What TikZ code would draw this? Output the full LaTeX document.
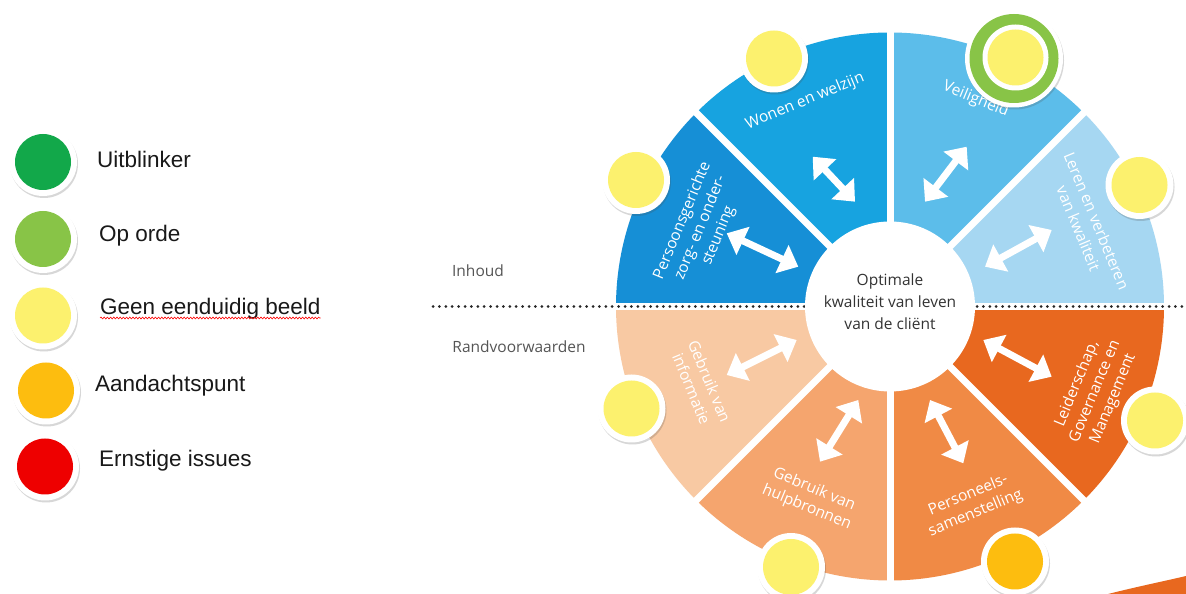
\documentclass[tikz,border=0pt]{standalone}
\usepackage{fontspec}
\usetikzlibrary{calc,arrows.meta,shadows,decorations.pathmorphing}
\newfontfamily\legendfont{Liberation Sans}
\newfontfamily\wheelfont{Open Sans}

% segment colours
\definecolor{lerenc}{HTML}{A6D7F2}
\definecolor{veilc}{HTML}{5CBDEA}
\definecolor{wonenc}{HTML}{17A3E0}
\definecolor{persc}{HTML}{168FD6}
\definecolor{infoc}{HTML}{F8C9A3}
\definecolor{hulpc}{HTML}{F5A56E}
\definecolor{persnc}{HTML}{F08A45}
\definecolor{leidc}{HTML}{E8681F}
% status colours
\definecolor{topgreen}{HTML}{12A84A}
\definecolor{okgreen}{HTML}{88C447}
\definecolor{yel}{HTML}{FCF16E}
\definecolor{amber}{HTML}{FDBD0F}
\definecolor{alarm}{HTML}{EE0000}
\definecolor{txtgrey}{HTML}{555555}
\definecolor{coregrey}{HTML}{333333}

\tikzset{
  rim/.style={circle, fill=white, inner sep=0pt, minimum size=68pt,
    drop shadow={shadow xshift=1pt, shadow yshift=-2pt, opacity=0.22, fill=black!70}},
  dot/.style={circle, fill=#1, inner sep=0pt, minimum size=56pt},
  gapline/.style={white, line width=7pt},
  dotline/.style={draw=black!85, line width=3pt, line cap=round, dash pattern=on 0pt off 6.4pt},
  wheelarrow/.style={draw=white, line width=7pt,
    arrows={Triangle[width=30pt,length=18pt,fill=white]-Triangle[width=30pt,length=18pt,fill=white]}},
  segtext/.style={text=white, align=center, inner sep=0pt,
    font=\wheelfont\fontsize{15.5}{19.5}\selectfont},
  sidetext/.style={text=txtgrey, inner sep=0pt, font=\wheelfont\fontsize{15.5}{18}\selectfont},
  legtext/.style={anchor=base west, inner sep=0pt, text=black!90,
    font=\legendfont\fontsize{22.5}{26}\selectfont},
  spell/.style={red, line width=0.6pt, decorate,
    decoration={snake, amplitude=0.9pt, segment length=3.2pt}},
}

\begin{document}
\begin{tikzpicture}[x=1pt,y=1pt]
\useasboundingbox (0,0) rectangle (1186,594);
\fill[white] (0,0) rectangle (1186,594);

% ---------- legend ----------
\foreach \n/\x/\y/\c in {l1/43/432/topgreen, l2/43/355/okgreen, l3/43/278.5/yel,
                         l4/46/203.5/amber, l5/45/127.5/alarm}{
  \node[rim] (\n) at (\x,\y) {};
  \node[dot=\c] (\n dot) at (\n) {};
}
\node[legtext] (t1) at (97,426) {Uitblinker};
\node[legtext] (t2) at (99,352) {Op orde};
\node[legtext] (t3) at (100,279) {Geen eenduidig beeld};
\node[legtext] (t4) at (95,202) {Aandachtspunt};
\node[legtext] (t5) at (99,127) {Ernstige issues};
\draw[spell] ([yshift=-3pt]t3.base west) -- ([yshift=-3pt]t3.base east);

% ---------- wheel ----------
\coordinate (C) at (890,287.5);
\foreach \a/\col in {0/lerenc, 45/veilc, 90/wonenc, 135/persc,
                     180/infoc, 225/hulpc, 270/persnc, 315/leidc}
  \fill[\col] (C) -- ++(\a:274) arc[start angle=\a, end angle=\a+45, radius=274] -- cycle;

% white gaps between the segments
\foreach \a in {45,90,135,225,270,315}
  \draw[gapline] (C) -- ++(\a:282);
\draw[gapline] ([xshift=-282pt]C) -- ([xshift=282pt]C);

% dotted divider between content and preconditions
\coordinate (dl) at (433,287.5);
\coordinate (dr) at (1186,287.5);
\draw[dotline] (dl) -- (dr);
\node[sidetext] (inhoud) at (478,323) {Inhoud};
\node[sidetext] (rand) at (519,247) {Randvoorwaarden};

% centre
\node[circle, fill=white, inner sep=0pt, minimum size=170pt] (core) at (C) {};
\node[align=center, inner sep=0pt, text=coregrey,
      font=\wheelfont\fontsize{15.5}{22}\selectfont] (coretxt)
      at ([yshift=5pt]core.center) {Optimale\\kwaliteit van leven\\van de cliënt};

% segment labels
\node[segtext, rotate=22.5]  (wonen) at ($(C)+(112.5:222)$) {Wonen en welzijn};
\node[segtext, rotate=-22.5] (veil)  at ($(C)+(67.5:224)$)  {Veiligheid};
\node[segtext, rotate=67.5]  (pers)  at ($(C)+(157.5:205)$) {Persoonsgerichte\\zorg- en onder-\\steuning};
\node[segtext, rotate=-67.5] (leren) at ($(C)+(22.5:214)$)  {Leren en verbeteren\\van kwaliteit};
\node[segtext, rotate=-67.5] (info)  at ($(C)+(202.5:205)$) {Gebruik van\\informatie};
\node[segtext, rotate=-22.5] (hulp)  at ($(C)+(247.5:208)$) {Gebruik van\\hulpbronnen};
\node[segtext, rotate=22.5]  (persn) at ($(C)+(292.5:214)$) {Personeels-\\samenstelling};
\node[segtext, rotate=67.5]  (leid)  at ($(C)+(337.5:222)$) {Leiderschap,\\Governance en\\Management};

% double arrows
\coordinate (a1s) at (812.7,437.3);  \coordinate (a1e) at (855,392.3);
\coordinate (a2s) at (726.7,360.7);  \coordinate (a2e) at (798.3,327.3);
\coordinate (a3s) at (966.7,447.3);  \coordinate (a3e) at (925,392.3);
\coordinate (a4s) at (1051.7,364);   \coordinate (a4e) at (985,327.3);
\coordinate (a5s) at (796.7,254);    \coordinate (a5e) at (726.7,219);
\coordinate (a6s) at (858.3,194);    \coordinate (a6e) at (820,132.3);
\coordinate (a7s) at (983.3,254);    \coordinate (a7e) at (1051.7,217.3);
\coordinate (a8s) at (930,194);      \coordinate (a8e) at (963.3,130.7);
\foreach \i in {1,...,8}
  \draw[wheelarrow] (a\i s) -- (a\i e);

% status markers
\foreach \n/\x/\y/\c in {s1/774/535.5/yel, s2/636/414/yel, s4/1139.5/409/yel,
                         s5/1155/173.5/yel, s6/1015/32.5/amber, s7/791/27/yel,
                         s8/631.5/185.5/yel}{
  \node[rim] (\n) at (\x,\y) {};
  \node[dot=\c] (\n dot) at (\n) {};
}
\node[rim, minimum size=98pt] (s3) at (1014,535.5) {};
\node[circle, fill=okgreen, inner sep=0pt, minimum size=89pt] (s3ring) at (s3) {};
\node[circle, fill=white, inner sep=0pt, minimum size=66pt] (s3in) at ([shift={(1.5,1)}]s3) {};
\node[dot=yel] (s3dot) at (s3in) {};

% orange corner swoosh
\fill[leidc] (1108,0) .. controls (1140,8) and (1165,13) .. (1186,18) -- (1186,0) -- cycle;
\end{tikzpicture}
\end{document}
